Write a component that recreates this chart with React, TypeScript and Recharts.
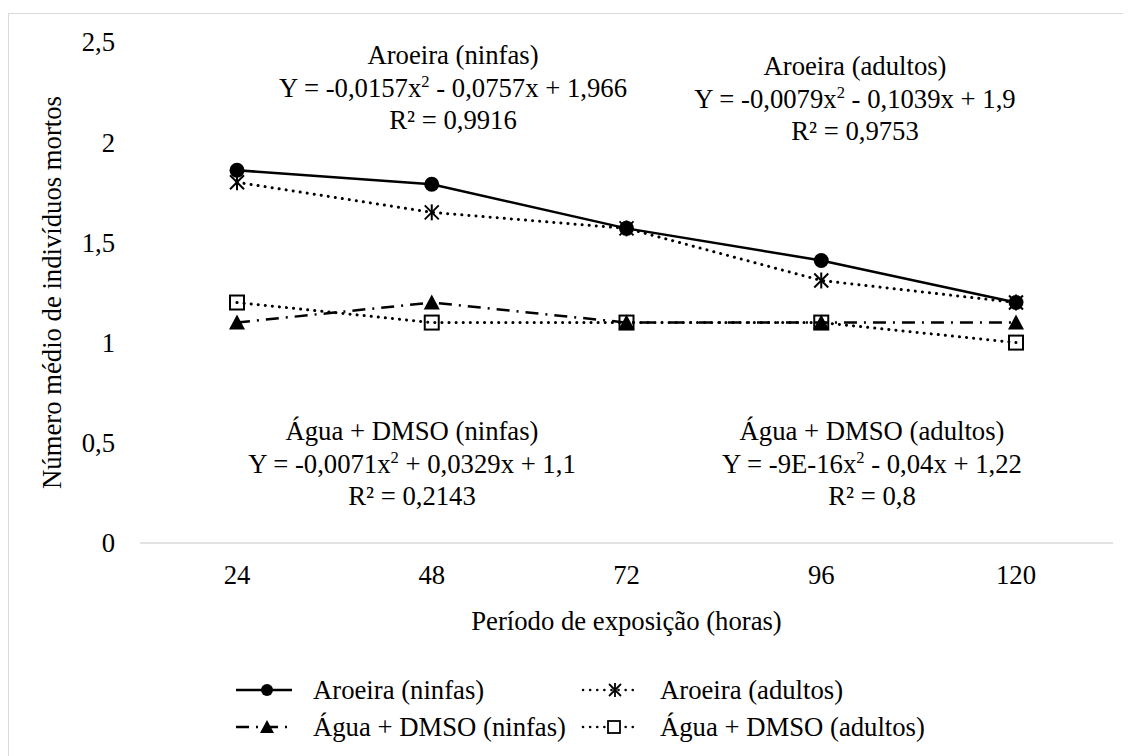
import React from 'react';
import { LineChart, Line, XAxis, YAxis } from 'recharts';

const hours = ['24', '48', '72', '96', '120'];
const aroeiraNinfas = [1.86, 1.79, 1.57, 1.41, 1.2];
const aroeiraAdultos = [1.8, 1.65, 1.57, 1.31, 1.2];
const aguaNinfas = [1.1, 1.2, 1.1, 1.1, 1.1];
const aguaAdultos = [1.2, 1.1, 1.1, 1.1, 1.0];
const yTicks = [0, 0.5, 1, 1.5, 2, 2.5];

const seriesNames = ['Aroeira (ninfas)', 'Aroeira (adultos)', 'Água + DMSO (ninfas)', 'Água + DMSO (adultos)'];

const FONT = 'Liberation Serif';
const FS = 26.7;
const DOTTED = '0.1 7';
const DASHDOT = '13 7 2 7';

const data = hours.map((h, i) => ({
  h,
  an: aroeiraNinfas[i],
  aa: aroeiraAdultos[i],
  gn: aguaNinfas[i],
  ga: aguaAdultos[i],
}));

// marker shapes
const Circle = ({ cx, cy }: any) => <circle cx={cx} cy={cy} r={7.5} fill="#000" />;
const Star = ({ cx, cy }: any) => (
  <g stroke="#000" strokeWidth={2}>
    <line x1={cx - 7} y1={cy - 7} x2={cx + 7} y2={cy + 7} />
    <line x1={cx - 7} y1={cy + 7} x2={cx + 7} y2={cy - 7} />
    <line x1={cx} y1={cy - 8} x2={cx} y2={cy + 8} />
  </g>
);
const Tri = ({ cx, cy }: any) => (
  <path d={`M${cx},${cy - 8} L${cx + 8},${cy + 7} L${cx - 8},${cy + 7} Z`} fill="#000" />
);
const Square = ({ cx, cy }: any) => (
  <rect x={cx - 7} y={cy - 7} width={14} height={14} fill="none" stroke="#000" strokeWidth={2} />
);

const fmt = (v: number) => String(v).replace('.', ',');

const Sup = ({ children }: any) => (
  <span style={{ fontSize: '0.62em', verticalAlign: '0.6em', lineHeight: 0 }}>{children}</span>
);

const Note = ({ x, y, lines }: any) => (
  <div style={{ position: 'absolute', left: x - 250, top: y, width: 500, textAlign: 'center', fontSize: FS, lineHeight: '32.5px', whiteSpace: 'nowrap' }}>
    {lines.map((l: any, i: number) => <div key={i}>{l}</div>)}
  </div>
);

const Swatch = ({ dash, marker }: any) => (
  <svg width={60} height={20} style={{ display: 'block' }}>
    <line x1={2} y1={10} x2={58} y2={10} stroke="#000" strokeWidth={2.5} strokeDasharray={dash} strokeLinecap={dash === DOTTED ? 'round' : 'butt'} />
    {marker === 'circle' && <circle cx={33} cy={10} r={6} fill="#000" />}
    {marker === 'star' && <g stroke="#000" strokeWidth={1.8}>
      <line x1={28} y1={4} x2={40} y2={16} /><line x1={28} y1={16} x2={40} y2={4} /><line x1={34} y1={3} x2={34} y2={17} />
    </g>}
    {marker === 'tri' && <path d="M33,3 L40,16 L26,16 Z" fill="#000" />}
    {marker === 'square' && <rect x={27} y={4} width={12} height={12} fill="#fff" stroke="#000" strokeWidth={1.8} />}
  </svg>
);

const LegendItem = ({ x, y, dash, marker, label }: any) => (
  <div style={{ position: 'absolute', left: x, top: y - 16, height: 32, display: 'flex', alignItems: 'center', fontSize: FS, whiteSpace: 'nowrap' }}>
    <Swatch dash={dash} marker={marker} />
    <span style={{ marginLeft: 19 }}>{label}</span>
  </div>
);

const tickStyle = { fontSize: FS, fill: '#000', fontFamily: FONT };

export default function App() {
  return (
    <div style={{ paddingTop: 5, fontFamily: FONT, color: '#000' }}>
      <div style={{ position: 'relative', width: 1123, height: 743, overflow: 'hidden' }}>
        <div style={{ position: 'absolute', left: 0, top: 0, width: 1200, height: 800, border: '1px solid #d9d9d9' }} />
        <div style={{ position: 'absolute', left: 1, top: 1 }}>
          <LineChart width={1122} height={742} data={data} margin={{ top: 28, right: 18, left: 0, bottom: 113 }}>
            <XAxis dataKey="h" height={100} padding={{ left: 97, right: 97 }} axisLine={{ stroke: '#d9d9d9', strokeWidth: 1.5 }} tickLine={false} tickSize={0} tickMargin={22}
              tick={tickStyle}
              label={{ value: 'Período de exposição (horas)', position: 'insideBottom', offset: 13, style: tickStyle }} />
            <YAxis width={131} domain={[0, 2.5]} ticks={yTicks} axisLine={false} tickLine={false} tickSize={0} tickMargin={25}
              tickFormatter={fmt} tick={tickStyle}
              label={{ value: 'Número médio de indivíduos mortos', angle: -90, position: 'insideLeft', offset: 43, style: { ...tickStyle, textAnchor: 'middle' } }} />
            <Line dataKey="an" name={seriesNames[0]} stroke="#000" strokeWidth={2.5} dot={<Circle />} activeDot={false} isAnimationActive={false} />
            <Line dataKey="aa" name={seriesNames[1]} stroke="#000" strokeWidth={3} strokeDasharray={DOTTED} strokeLinecap="round" dot={<Star />} activeDot={false} isAnimationActive={false} />
            <Line dataKey="gn" name={seriesNames[2]} stroke="#000" strokeWidth={2.5} strokeDasharray={DASHDOT} dot={<Tri />} activeDot={false} isAnimationActive={false} />
            <Line dataKey="ga" name={seriesNames[3]} stroke="#000" strokeWidth={3} strokeDasharray={DOTTED} strokeLinecap="round" dot={<Square />} activeDot={false} isAnimationActive={false} />
          </LineChart>
        </div>
        <Note x={445} y={26} lines={[
          'Aroeira (ninfas)',
          <>Y = -0,0157x<Sup>2</Sup> - 0,0757x + 1,966</>,
          'R² = 0,9916',
        ]} />
        <Note x={847} y={37} lines={[
          'Aroeira (adultos)',
          <>Y = -0,0079x<Sup>2</Sup> - 0,1039x + 1,9</>,
          'R² = 0,9753',
        ]} />
        <Note x={404} y={402} lines={[
          'Água + DMSO (ninfas)',
          <>Y = -0,0071x<Sup>2</Sup> + 0,0329x + 1,1</>,
          'R² = 0,2143',
        ]} />
        <Note x={864} y={402} lines={[
          'Água + DMSO (adultos)',
          <>Y = -9E-16x<Sup>2</Sup> - 0,04x + 1,22</>,
          'R² = 0,8',
        ]} />
        <LegendItem x={226} y={677} dash={undefined} marker="circle" label={seriesNames[0]} />
        <LegendItem x={573} y={677} dash={DOTTED} marker="star" label={seriesNames[1]} />
        <LegendItem x={226} y={714} dash={DASHDOT} marker="tri" label={seriesNames[2]} />
        <LegendItem x={573} y={714} dash={DOTTED} marker="square" label={seriesNames[3]} />
      </div>
    </div>
  );
}
